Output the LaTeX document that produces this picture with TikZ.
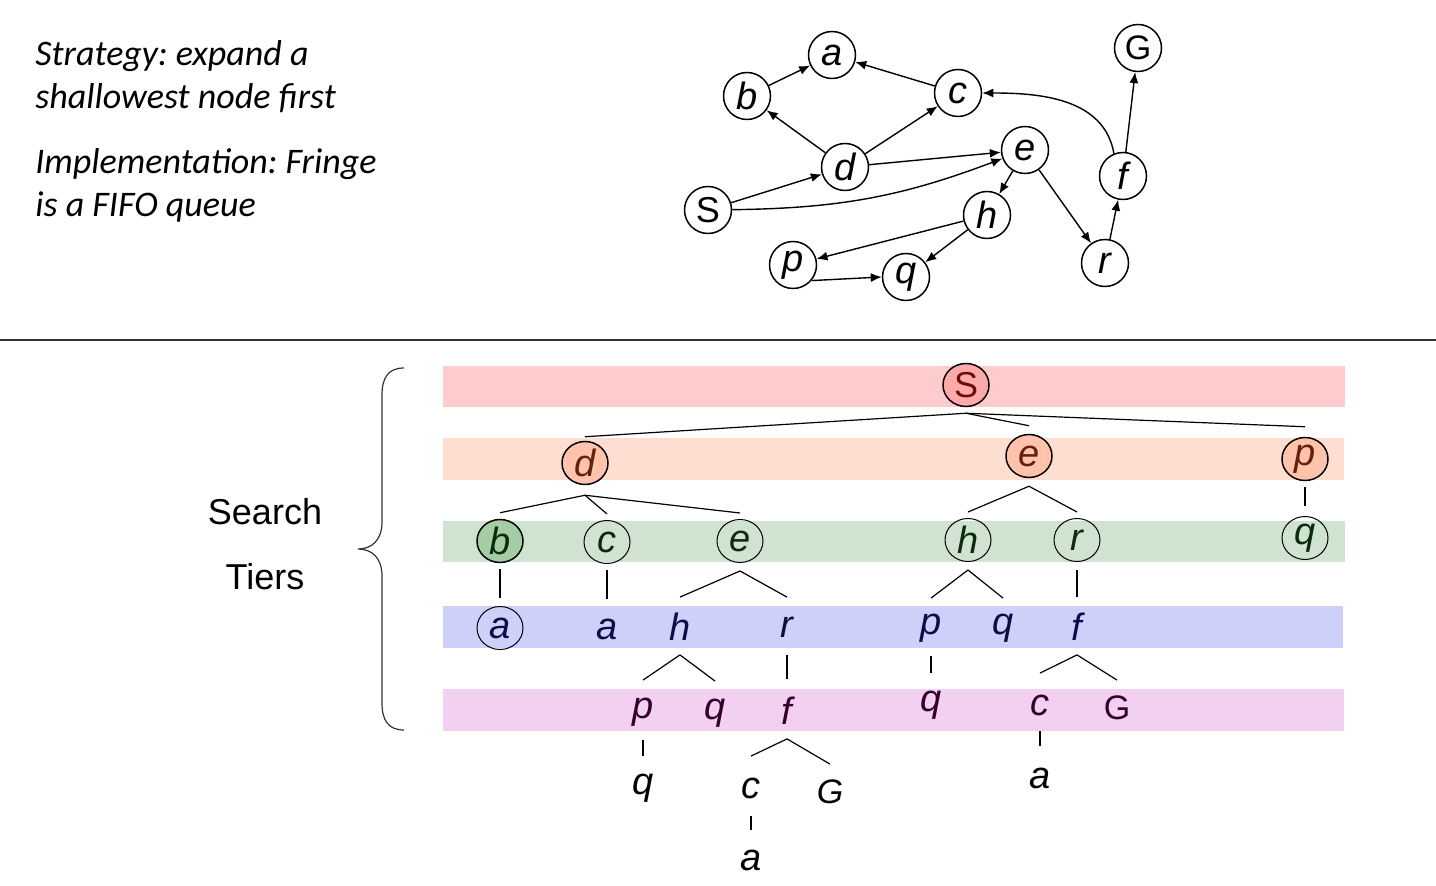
\documentclass[tikz,border=0pt]{standalone}
\usepackage{fontspec}
\setmainfont{Liberation Sans}
\newfontfamily\calfont{Carlito}
\usepackage{tikz}
\usetikzlibrary{arrows.meta,shapes.geometric}
\frenchspacing

\definecolor{bandS}{RGB}{255,204,206}
\definecolor{bandD}{RGB}{255,222,210}
\definecolor{bandB}{RGB}{208,227,208}
\definecolor{bandA}{RGB}{205,209,250}
\definecolor{bandP}{RGB}{241,208,240}
\definecolor{circS}{RGB}{255,170,170}
\definecolor{circD}{RGB}{255,195,172}
\definecolor{circB}{RGB}{165,205,165}
\definecolor{txtS}{RGB}{110,12,12}
\definecolor{txtD}{RGB}{100,32,10}
\definecolor{txtB}{RGB}{12,42,12}
\definecolor{txtA}{RGB}{12,12,72}
\definecolor{txtP}{RGB}{52,0,42}

\begin{document}
\begin{tikzpicture}[x=0.5pt,y=-0.5pt,
  gnode/.style={draw,circle,line width=0.75pt,minimum size=23.5pt,inner sep=0pt,font=\fontsize{19}{22}\selectfont\itshape},
  garrow/.style={-{Latex[length=5.5pt,width=4.5pt]},line width=0.7pt},
  tnode/.style={ellipse,minimum width=23pt,minimum height=21.5pt,inner sep=0pt,font=\fontsize{19}{22}\selectfont\itshape},
  tline/.style={line width=0.6pt}]
\useasboundingbox (0,0) rectangle (1436,886);

% strategy text
\node (strat) at (35,77) [anchor=west,align=left,inner sep=0pt,font=\calfont\itshape\fontsize{18}{21.5}\selectfont] {Strategy: expand a\\shallowest node first};
\node (impl) at (35,185) [anchor=west,align=left,inner sep=0pt,font=\calfont\itshape\fontsize{18}{21.5}\selectfont] {Implementation: Fringe\\is a FIFO queue};

% state graph
\node (ga) at (832,55) [gnode] {a};
\node (gb) at (747,96) [gnode] {b};
\node (gc) at (958,93) [gnode] {c};
\node (gd) at (845,167) [gnode] {d};
\node (ge) at (1025,150) [gnode] {e};
\node (gS) at (708,210) [gnode,font=\fontsize{18}{22}\selectfont] {S};
\node (gh) at (987,215) [gnode] {h};
\node (gp) at (793,265) [gnode] {p};
\node (gq) at (906,277) [gnode] {q};
\node (gr) at (1105,263) [gnode] {r};
\node (gf) at (1123,176) [gnode] {f};
\node (gG) at (1138,48) [gnode,font=\fontsize{17}{22}\selectfont] {G};
\draw [garrow] (gb) -- (ga);
\draw [garrow] (gc) -- (ga);
\draw [garrow] (gd) -- (gb);
\draw [garrow] (gd) -- (gc);
\draw [garrow] (gd) -- (ge);
\draw [garrow] (gS) -- (gd);
\draw [garrow] (gS) to[bend right=10] (ge);
\draw [garrow] (ge) -- (gh);
\draw [garrow] (ge) -- (gr);
\draw [garrow] (gh) -- (gp);
\draw [garrow] (gh) -- (gq);
\draw [garrow] (gp.-40) -- (gq.west);
\draw [garrow] (gr) -- (gf);
\draw [garrow] (gf) -- (gG);
\draw [garrow] (gf.112) to[out=100,in=0] (gc.east);

\draw [line width=0.6pt,black!80] (0,340) -- (1436,340);

% tier bands
\fill [bandS] (443,366) rectangle (1345,407);
\fill [bandD] (443,438) rectangle (1344,480);
\fill [bandB] (443,521) rectangle (1345,562);
\fill [bandA] (443,606) rectangle (1343,648);
\fill [bandP] (443,689) rectangle (1344,731);

\draw [line width=0.6pt,black!80] (404,368) .. controls (388,368) and (382,378) .. (382,395) -- (382,522)
  .. controls (382,540) and (372,549) .. (358,549) .. controls (372,549) and (382,558) .. (382,576)
  -- (382,703) .. controls (382,720) and (388,730) .. (404,730);
\node (lblS) at (265,512) [font=\fontsize{18}{21}\selectfont] {Search};
\node (lblT) at (265,577) [font=\fontsize{18}{21}\selectfont] {Tiers};

% search tree
\node (t1S) at (966,385) [tnode,draw,line width=0.75pt,fill=circS,text=txtS,font=\fontsize{18}{22}\selectfont] {S};
\node (t2d) at (585,463) [tnode,draw,line width=0.75pt,fill=circD,text=txtD] {d};
\node (t2e) at (1029,456) [tnode,draw,line width=0.75pt,fill=circD,text=txtD] {e};
\node (t2p) at (1305,459) [tnode,draw,line width=0.75pt,fill=circD,text=txtD] {p};
\node (t3b) at (500,541) [tnode,draw,line width=0.75pt,fill=circB,text=txtB] {b};
\node (t3c) at (607,542) [tnode,draw,line width=0.5pt,text=txtB] {c};
\node (t3e) at (740,541) [tnode,draw,line width=0.5pt,text=txtB] {e};
\node (t3h) at (968,540) [tnode,draw,line width=0.5pt,text=txtB] {h};
\node (t3r) at (1077,540) [tnode,draw,line width=0.5pt,text=txtB] {r};
\node (t3q) at (1305,538) [tnode,draw,line width=0.5pt,text=txtB] {q};
\node (t4a) at (500,628) [tnode,draw,line width=0.5pt,text=txtA] {a};
\node (t4a2) at (607,629) [tnode,text=txtA] {a};
\node (t4h) at (680,627) [tnode,text=txtA] {h};
\node (t4r) at (787,627) [tnode,text=txtA] {r};
\node (t4p) at (931,628) [tnode,text=txtA] {p};
\node (t4q) at (1003,628) [tnode,text=txtA] {q};
\node (t4f) at (1077,627) [tnode,text=txtA] {f};
\node (t5p) at (643,712) [tnode,text=txtP] {p};
\node (t5q) at (715,713) [tnode,text=txtP] {q};
\node (t5f) at (787,711) [tnode,text=txtP] {f};
\node (t5q2) at (931,705) [tnode,text=txtP] {q};
\node (t5c) at (1040,705) [tnode,text=txtP] {c};
\node (t5G) at (1117,708) [tnode,text=txtP,font=\fontsize{17}{22}\selectfont] {G};
\node (t6q) at (643,788) [tnode] {q};
\node (t6c) at (751,788) [tnode] {c};
\node (t6G) at (830,792) [tnode,font=\fontsize{17}{22}\selectfont\itshape] {G};
\node (t6a) at (1040,778) [tnode] {a};
\node (t7a) at (751,860) [tnode] {a};

\draw [tline] ([yshift=-3pt]t1S.south) -- ([yshift=2pt]t2d.north);
\draw [tline] ([yshift=-3pt]t1S.south) -- ([yshift=4pt]t2e.north);
\draw [tline] ([yshift=-3pt]t1S.south) -- ([yshift=5pt]t2p.north);
\draw [tline] ([yshift=-5pt]t2d.south) -- ([yshift=3pt]t3b.north);
\draw [tline] ([yshift=-5pt]t2d.south) -- ([yshift=3pt]t3c.north);
\draw [tline] ([yshift=-5pt]t2d.south) -- ([yshift=3pt]t3e.north);
\draw [tline] ([yshift=-4pt]t2e.south) -- ([yshift=3pt]t3h.north);
\draw [tline] ([yshift=-4pt]t2e.south) -- ([yshift=3pt]t3r.north);
\draw [tline] ([yshift=-3pt]t2p.south) -- ([yshift=5pt]t3q.north);
\draw [tline] ([yshift=-3pt]t3b.south) -- ([yshift=4pt]t4a.north);
\draw [tline] ([yshift=-3pt]t3c.south) -- ([yshift=4pt]t4a2.north);
\draw [tline] ([yshift=-4pt]t3e.south) -- ([yshift=4pt]t4h.north);
\draw [tline] ([yshift=-4pt]t3e.south) -- ([yshift=4pt]t4r.north);
\draw [tline] ([yshift=-4pt]t3h.south) -- ([yshift=4pt]t4p.north);
\draw [tline] ([yshift=-4pt]t3h.south) -- ([yshift=4pt]t4q.north);
\draw [tline] ([yshift=-4pt]t3r.south) -- ([yshift=4pt]t4f.north);
\draw [tline] ([yshift=-3pt]t4h.south) -- ([yshift=5pt]t5p.north);
\draw [tline] ([yshift=-3pt]t4h.south) -- ([yshift=5pt]t5q.north);
\draw [tline] ([yshift=-3pt]t4r.south) -- ([yshift=5pt]t5f.north);
\draw [tline] ([yshift=-3pt]t4p.south) -- ([yshift=5pt]t5q2.north);
\draw [tline] ([yshift=-3pt]t4f.south) -- ([yshift=5pt]t5c.north);
\draw [tline] ([yshift=-3pt]t4f.south) -- ([yshift=3pt]t5G.north);
\draw [tline] ([yshift=-3pt]t5p.south) -- ([yshift=5pt]t6q.north);
\draw [tline] ([yshift=-3pt]t5f.south) -- ([yshift=5pt]t6c.north);
\draw [tline] ([yshift=-3pt]t5f.south) -- ([yshift=3pt]t6G.north);
\draw [tline] ([yshift=-2pt]t5c.south) -- ([yshift=5pt]t6a.north);
\draw [tline] ([yshift=-3pt]t6c.south) -- ([yshift=4pt]t7a.north);
\end{tikzpicture}
\end{document}
